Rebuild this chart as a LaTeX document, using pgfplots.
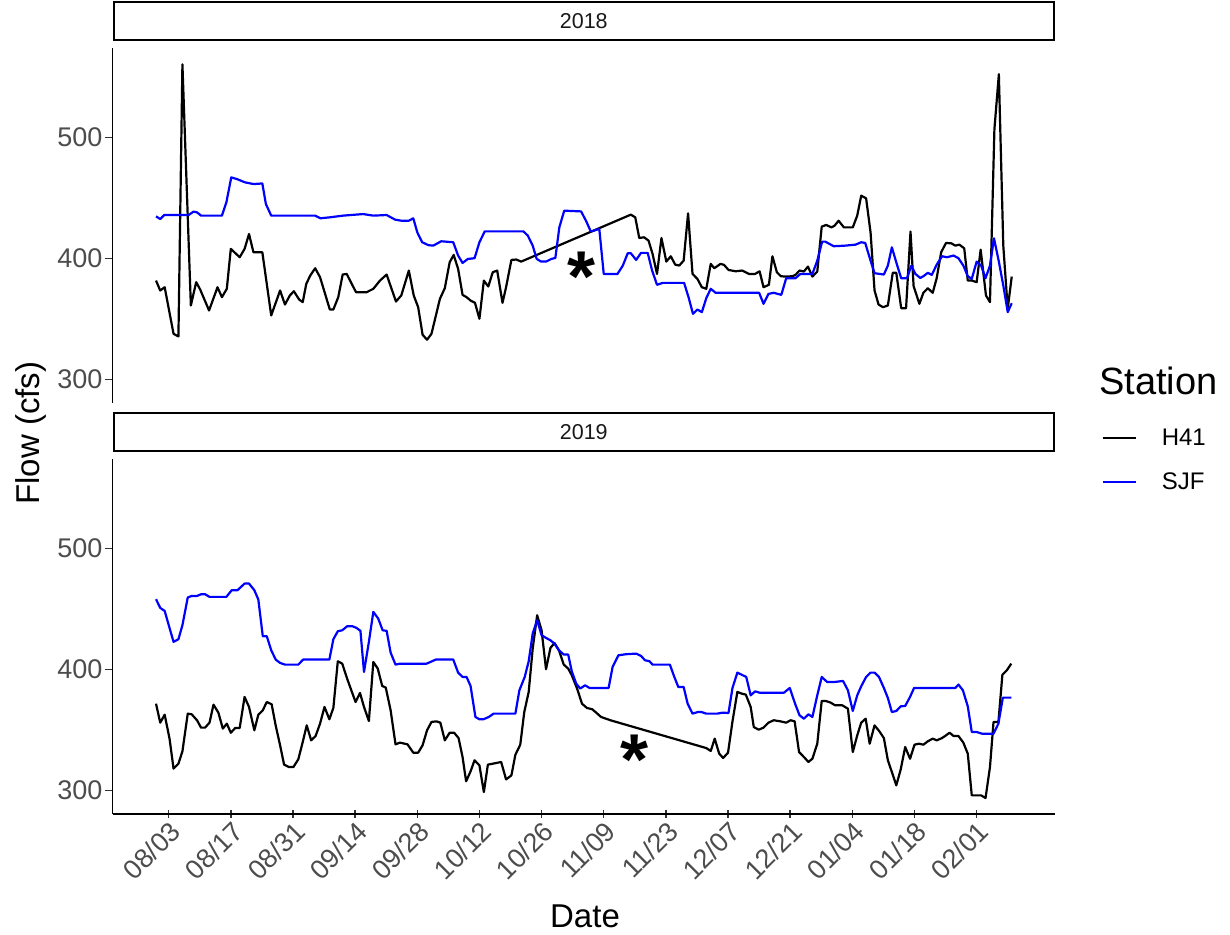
\documentclass[border=0pt]{standalone}
\usepackage{pgfplots}
\pgfplotsset{compat=1.18}
\usepackage{fontspec}
\setmainfont{Liberation Sans}
\definecolor{sjfblue}{RGB}{0,0,255}
\pgfplotsset{
  panel/.style={
    scale only axis, width=942.5pt, height=355pt,
    xmin=-12.65, xmax=199.65, ymin=280.5, ymax=574,
    axis y line=left,
    ytick={300,400,500}, yticklabels={300,400,500},
    tick align=outside, major tick length=8pt,
    tick style={line width=1.4pt, black!80},
    yticklabel style={font=\fontsize{27}{27}\selectfont, text=black!70, inner sep=2pt},
    title style={at={(0.5,1)}, anchor=south, draw=black, line width=2pt,
      minimum width=940.5pt, minimum height=37.5pt, inner sep=0pt, yshift=1pt,
      font=\fontsize{21.5}{21.5}\selectfont, text=black!90},
    every axis plot/.append style={line width=2.2pt, line join=round},
    /pgf/number format/assume math mode=true,
  }
}
\begin{document}
\begin{tikzpicture}
\path[use as bounding box] (0pt,0pt) rectangle (1230pt,934pt);
% ---------------- 2018 ----------------
\begin{axis}[panel, at={(112.5pt,531pt)}, anchor=south west,
  axis x line=none, title={2018},
  axis line style={-, line width=1.6pt, black}]
\addplot[black] coordinates {
(-2.85,381.7) (-1.9,373.5) (-0.9,376.2) (1.1,337.7) (2.2,335.5) (3.1,560.5) (5.0,361.1) (6.2,380.4) (7.1,374.3) (9.1,357) (11.0,376.2) (12.0,368) (13.1,374.9) (14.0,407.9) (16.0,401) (17.1,407.9) (18.1,420.2) (19.1,405.1) (21.1,405.1) (23.1,352.9) (25.1,373.5) (26.2,361.9) (27.3,369.4) (28.2,372.9) (29.4,366) (30.2,363.9) (31.0,379) (31.9,385.9) (33.0,391.9) (34.1,384.5) (36.3,357.8) (37.1,357.8) (38.2,368) (39.2,386.7) (40.1,387.2) (42.2,372.1) (44.6,372.1) (46.1,374.9) (47.6,381.7) (49.1,386.7) (51.2,364.4) (52.4,369.4) (54.1,390) (55.2,369.4) (56.2,359.7) (57.2,336.9) (58.2,332.8) (59.2,337.7) (61.1,366.6) (62.2,375.4) (63.3,396.9) (64.2,402.9) (65.2,391.4) (66.2,369.9) (67.1,368) (68.0,365.2) (69.0,363.3) (70.0,350.1) (71.0,381.7) (72.0,376.8) (73.0,388.6) (74.0,390) (75.2,363.3) (76.0,376.2) (77.2,398.8) (78.3,399.1) (79.4,397.4) (104.1,436.2) (105.1,434) (106.0,416.9) (107.1,417.5) (108.1,414.7) (109.0,403.7) (110.0,387.2) (111.0,416.9) (112.1,397.4) (113.1,401.8) (114.1,394.9) (115.0,394.1) (116.0,398.2) (117.0,437.3) (118.0,387.2) (119.1,383.1) (120.1,376.2) (121.1,374.9) (122.1,395.5) (122.9,391.9) (124.3,395.5) (125.1,394.7) (126.1,390.5) (127.7,389.4) (129.2,390) (130.7,387.2) (132.1,387.2) (133.1,389.4) (134.0,376.2) (135.2,378.2) (136.0,401.8) (137.0,388.6) (137.9,385.3) (139.0,385) (140.5,385.3) (141.2,386.4) (142.1,390) (143.1,389.2) (144.0,393.3) (145.0,385) (146.1,389.2) (147.1,426.3) (148.1,427.7) (149.3,425.7) (150.0,427.1) (150.9,431.2) (152.1,425.7) (154.1,425.7) (155.1,435.4) (156.0,451.9) (157.1,449.7) (158.1,421.6) (159.0,373.5) (159.9,361.9) (160.9,359.7) (162.0,361.1) (163.1,388.1) (163.9,388.1) (165.0,358.9) (166.1,358.9) (167.1,422.2) (167.8,377.1) (169.1,362.5) (170.0,371.6) (171.0,375.4) (172.1,371.6) (173.0,383.7) (174.0,405.1) (175.1,412.8) (176.3,412.5) (177.2,410.6) (178.1,411.4) (179.2,408.4) (180.0,381.7) (180.9,381.7) (182.0,380.4) (182.9,407.3) (184.1,369.4) (185.0,363.9) (186.0,506.9) (187.0,552.3) (188.0,410.6) (189.0,358.4) (189.9,385)
};
\addplot[sjfblue] coordinates {
(-2.85,434.8) (-1.9,432.6) (-1.0,435.9) (4.5,435.9) (5.6,438.7) (6.4,438.1) (7.3,435.4) (12.0,435.4) (13.0,446.4) (14.1,467) (15.4,465.6) (17.2,462.9) (19.1,461.5) (21.1,462) (21.9,445) (23.1,435.4) (33.0,435.4) (34.2,433.2) (36.3,434) (39.3,435.4) (43.8,436.7) (46.1,435.4) (49.1,435.9) (51.0,432.1) (52.4,431.2) (54.1,431.2) (55.1,433.2) (56.0,421.6) (57.1,413.4) (58.5,411) (59.6,410.6) (61.4,414.2) (64.1,413.4) (65.2,402.4) (66.2,396.3) (67.4,399.6) (68.9,400.2) (70.0,413.4) (71.2,422.4) (79.9,422.4) (80.9,418.9) (82.0,410.6) (82.9,399.6) (83.9,397.4) (85.0,397.4) (86.2,399.6) (87.1,400.4) (88.0,425.7) (89.1,439.5) (92.9,438.9) (94.0,431.2) (95.1,422.2) (97.0,424.4) (98.0,387.2) (101.1,387.2) (102.3,394.1) (103.4,404.3) (104.1,404.3) (105.3,398.8) (106.4,404.6) (107.9,404.6) (108.9,390) (110.0,378.2) (111.3,379.8) (116.1,379.8) (117.1,368) (118.1,354.2) (119.1,357.8) (120.1,355.6) (121.1,367.2) (122.1,374.9) (123.2,371.6) (133.0,371.6) (134.0,362.5) (135.1,370.7) (136.3,371.6) (138.0,369.9) (139.1,383.7) (141.2,383.7) (142.3,387.2) (145.0,387.2) (146.1,398.2) (147.2,413.9) (147.9,413.9) (149.8,410.1) (152.4,410.6) (154.7,411.4) (156.0,413.4) (156.9,412.8) (158.1,398.2) (159.0,387.8) (161.1,386.7) (162.0,394.1) (162.9,409.2) (164.0,395.5) (165.0,383.7) (166.3,383.7) (167.3,394.1) (168.2,387.2) (169.3,383.9) (170.0,385.3) (171.0,388.1) (171.9,386.4) (173.0,394.9) (174.2,401.8) (175.3,401) (176.8,402.4) (177.9,400.2) (179.0,394.1) (180.0,385.3) (180.9,383.1) (182.0,397.4) (183.0,394.1) (184.0,383.7) (185.0,394.1) (185.9,416.7) (187.0,397.4) (188.0,377.6) (189.0,355.6) (189.9,363)
};
\node[anchor=base, inner sep=0pt, yshift=-41pt, font=\fontsize{72}{72}\selectfont\bfseries] at (axis cs:92.9,398.2) {*};
\end{axis}
% ---------------- 2019 ----------------
\begin{axis}[panel, at={(112.5pt,120pt)}, anchor=south west,
  axis x line=bottom, title={2019},
  axis line style={-, line width=1.6pt, black},
  x axis line style={-}, y axis line style={-},
  xtick={0,14,28,42,56,70,84,98,112,126,140,154,168,182},
  xticklabels={08/03,08/17,08/31,09/14,09/28,10/12,10/26,11/09,11/23,12/07,12/21,01/04,01/18,02/01},
  xticklabel style={rotate=45, anchor=north east, font=\fontsize{27}{27}\selectfont, text=black!70, inner sep=1pt},
  legend cell align=left,
  legend image code/.code={\draw[#1, line width=2pt] (0pt,0pt) -- (33pt,0pt);},
  legend style={draw=none, fill=none, at={(axis description cs:1.0496,0.997)}, anchor=west,
    inner sep=0pt, outer sep=0pt, row sep=26pt, column sep=25pt,
    font=\fontsize{24}{24}\selectfont, nodes={inner sep=0pt}},
]
\addplot[black] coordinates {
(-2.85,371.7) (-1.9,356) (-0.9,362.6) (0.2,342.8) (1.1,318) (2.2,322.1) (3.1,332.3) (4.3,363.5) (5.2,362.9) (6.4,357.9) (7.3,351.9) (8.2,351.9) (9.2,356) (10.1,370.9) (11.2,364.3) (12.2,351.1) (13.1,355.2) (14.0,347.7) (15.0,351.6) (16.0,351.6) (17.1,377.3) (18.1,369) (19.3,349.7) (20.2,362.6) (21.2,366.2) (22.1,373.1) (23.2,371.2) (24.1,353.8) (25.1,337.3) (26.0,321.3) (27.1,319.3) (28.1,319.3) (29.2,325.7) (30.2,340) (31.1,353.8) (32.1,341.4) (33.1,345) (34.1,355.2) (35.1,369) (36.2,358.8) (37.1,368.2) (38.1,406.8) (39.1,404.8) (40.2,392.4) (41.2,382.2) (42.1,373.1) (43.1,380.6) (44.0,369) (45.1,357.4) (46.1,406.2) (47.1,400.7) (48.1,386.4) (48.9,385) (50.0,366.2) (51.1,338.1) (52.1,339.5) (53.8,338.1) (55.1,331.2) (56.2,331.2) (57.2,337.3) (58.2,349.7) (59.2,356.6) (60.3,357.1) (61.2,356) (62.2,341.4) (63.3,347.7) (64.3,347.7) (65.3,343.3) (66.2,327.6) (67.0,307.5) (68.0,315.7) (68.9,324.9) (70.0,320.7) (71.0,298.6) (71.9,321.3) (73.0,322.1) (74.9,323.5) (76.0,309.1) (77.2,312.4) (78.1,329.5) (79.2,337.8) (80.1,364.8) (81.1,381.4) (82.0,417.3) (83.0,444.8) (84.0,432.4) (85.0,400.2) (86.0,417.8) (86.9,421.9) (87.9,415.9) (89.0,404) (90.0,400.7) (90.8,395.2) (92.0,384.2) (93.1,371.7) (94.2,368.2) (95.4,367.1) (96.3,364.3) (97.4,360.7) (99.6,357.9) (121.1,335) (122.1,332.6) (123.0,342.8) (124.0,330.4) (124.9,326.8) (126.0,331.2) (127.0,357.1) (128.1,381.4) (129.1,380) (130.0,379.2) (131.1,369) (131.8,352.4) (132.9,350.2) (134.0,351.9) (135.1,356) (136.3,358) (137.8,357.1) (139.1,356) (140.1,358) (141.0,357.1) (142.0,331.7) (143.1,327.6) (144.1,323.5) (145.0,326.2) (146.1,338.6) (147.1,374) (148.0,374) (149.1,372.6) (150.1,370.4) (151.7,370.4) (153.0,367.6) (154.1,331.7) (155.1,345.5) (156.0,356) (157.0,359.3) (157.9,338.6) (159.0,353.8) (160.1,348.8) (161.1,343.3) (162.0,324.9) (162.9,315.2) (163.9,304.2) (164.9,317.4) (165.9,335.9) (167.0,326.2) (168.0,337.8) (169.0,338.6) (170.0,337.8) (171.0,340.6) (172.1,342.8) (173.0,341.4) (174.2,343.3) (174.9,345) (175.9,347.7) (176.8,345) (177.9,345) (179.0,339.5) (180.0,330.4) (180.9,295.9) (183.0,295.9) (184.0,293.7) (185.0,319.3) (185.8,356.6) (186.9,356.6) (187.8,395.7) (188.8,399.3) (189.8,404.8)
};
\addlegendentry{H41}
\addplot[sjfblue] coordinates {
(-2.85,458.1) (-1.9,450.9) (-0.9,448.4) (1.1,422.8) (2.2,425) (3.1,436.6) (4.3,459.5) (5.2,460.8) (6.4,460.8) (7.3,462.2) (8.2,462.2) (9.2,460) (13.0,460) (14.2,465.5) (15.5,465.5) (17.1,471) (18.1,471) (19.3,465.5) (20.2,457.8) (21.2,427.5) (22.1,427.5) (23.1,415.9) (24.1,408.2) (25.1,405.4) (26.2,404) (29.2,404) (30.3,408.2) (36.2,408.2) (37.1,425) (38.1,431.6) (39.1,432.4) (40.2,435.7) (41.4,435.7) (42.3,434.4) (43.2,431.9) (44.0,397.9) (45.1,422.8) (46.1,447.6) (47.2,442.1) (48.2,432.4) (49.1,431.9) (50.0,413.9) (51.1,404) (52.1,404.8) (58.1,404.8) (60.2,408.2) (64.1,408.2) (65.2,397.4) (66.2,393.8) (67.1,393.8) (68.0,386.4) (69.1,360.7) (70.0,358.8) (70.9,358.8) (72.1,360.7) (73.2,363.5) (78.1,363.5) (79.0,382.8) (80.2,393.8) (81.1,406.8) (82.0,429.7) (83.0,440.7) (84.0,428.3) (85.0,426.1) (86.0,424.1) (86.9,421.4) (87.9,415.9) (89.0,412.3) (90.0,412.3) (90.8,398.5) (91.8,388.3) (92.7,384.2) (93.8,386.9) (94.8,384.7) (99.1,384.7) (100.0,402.1) (101.3,411.7) (103.0,412.6) (105.3,413.1) (106.4,411.2) (107.3,407.6) (108.3,406.8) (109.0,404) (112.9,404) (113.9,393.8) (114.8,385.5) (116.0,385.5) (116.9,371.7) (118.0,363.5) (119.2,364.8) (120.0,364.8) (121.1,363.5) (123.6,363.5) (124.8,364.3) (126.1,364) (127.0,384.7) (128.1,397.4) (130.1,393.8) (131.1,378.6) (132.1,381.9) (133.1,380.8) (138.6,380.8) (139.9,384.7) (141.1,371.7) (142.1,362.1) (143.1,359.3) (144.1,362.9) (145.0,360.7) (146.1,378.6) (147.1,393.8) (148.3,389.7) (150.1,389.7) (151.9,390.5) (153.0,382.8) (154.1,365.7) (155.1,378.6) (156.0,386.1) (157.1,393.8) (158.1,397.4) (159.0,397.4) (160.0,393.8) (161.1,384.7) (162.0,376.4) (162.9,364.8) (163.9,365.7) (164.9,369.5) (165.9,369.8) (167.0,377.3) (167.9,384.7) (177.2,384.7) (177.9,387.5) (178.9,382.8) (180.0,369.5) (180.9,348.3) (182.0,348.3) (183.2,346.9) (185.8,346.9) (186.9,355.2) (187.9,376.7) (189.8,376.7)
};
\addlegendentry{SJF}
\node[anchor=base, inner sep=0pt, yshift=-41pt, font=\fontsize{72}{72}\selectfont\bfseries] at (axis cs:104.9,338.6) {*};
\end{axis}
% ---------------- titles ----------------
\node[rotate=90, inner sep=0pt, font=\fontsize{33}{33}\selectfont] at (31pt,501pt) {Flow (cfs)};
\node[anchor=base, inner sep=0pt, font=\fontsize{33}{33}\selectfont] at (585pt,7pt) {Date};
\node[anchor=base west, inner sep=0pt, font=\fontsize{38}{38}\selectfont] at (1099pt,539pt) {Station};
\end{tikzpicture}
\end{document}
